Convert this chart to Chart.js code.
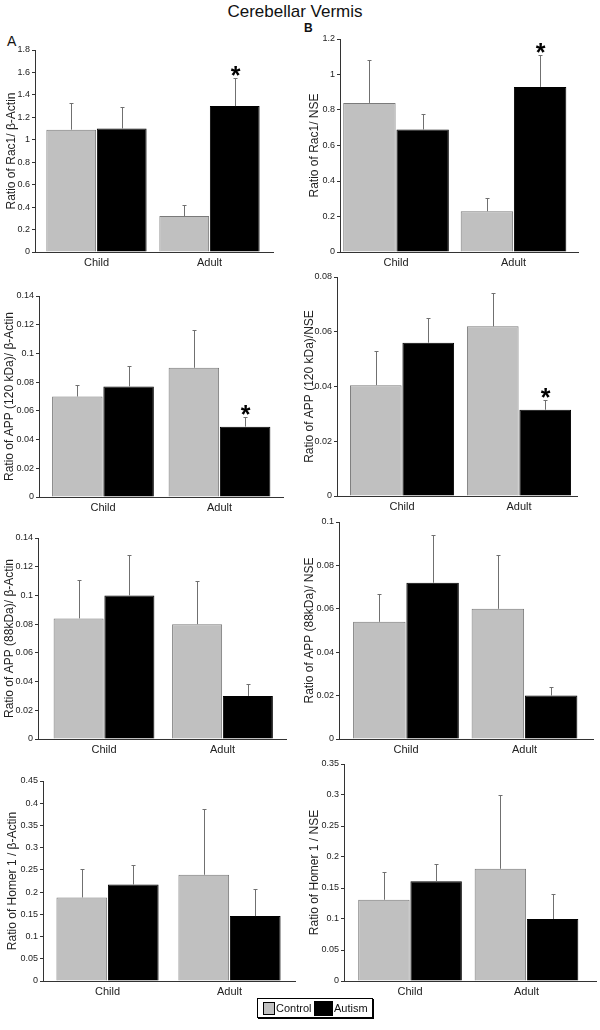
<!DOCTYPE html>
<html>
<head>
<meta charset="utf-8">
<script src="https://cdn.jsdelivr.net/npm/chart.js@4.4.1/dist/chart.umd.min.js"></script>
<style>
html,body{margin:0;padding:0;background:#fff;}
body{width:600px;height:1030px;position:relative;overflow:hidden;font-family:"Liberation Sans",Arial,sans-serif;color:#111;}
canvas{position:absolute;}
#title{position:absolute;left:0;width:590px;top:3px;text-align:center;font-size:17px;line-height:17px;}
#labA{position:absolute;left:7px;top:34px;font-size:14px;line-height:14px;}
#labB{position:absolute;left:304px;top:22px;font-size:12px;line-height:12px;font-weight:bold;}
#legend{position:absolute;left:257px;top:998px;width:114px;height:18px;border:1px solid #000;box-shadow:1px 1px 0 #000;font-size:11px;line-height:18px;white-space:nowrap;}
#legend .sw{position:absolute;border:1px solid #000;box-sizing:border-box;}
#legend .tx{position:absolute;top:0;}
</style>
</head>
<body>
<div id="title">Cerebellar Vermis</div>
<div id="labA">A</div>
<div id="labB">B</div>
<canvas id="a1"></canvas><canvas id="b1"></canvas>
<canvas id="a2"></canvas><canvas id="b2"></canvas>
<canvas id="a3"></canvas><canvas id="b3"></canvas>
<canvas id="a4"></canvas><canvas id="b4"></canvas>
<div id="legend"></div>
<script>
// ---------------- DATA ----------------
const groups = ['Child', 'Adult'];
const seriesNames = ['Control', 'Autism'];

// A1: Rac1 / beta-Actin
const rac1ActinControl = [1.09, 0.32];
const rac1ActinControlSE = [0.24, 0.10];
const rac1ActinAutism = [1.10, 1.30];
const rac1ActinAutismSE = [0.19, 0.25];
const rac1ActinStars = ['', '*'];
const rac1ActinTicks = ['0', '0.2', '0.4', '0.6', '0.8', '1', '1.2', '1.4', '1.6', '1.8'];

// B1: Rac1 / NSE
const rac1NseControl = [0.84, 0.23];
const rac1NseControlSE = [0.24, 0.075];
const rac1NseAutism = [0.69, 0.93];
const rac1NseAutismSE = [0.09, 0.18];
const rac1NseStars = ['', '*'];
const rac1NseTicks = ['0', '0.2', '0.4', '0.6', '0.8', '1', '1.2'];

// A2: APP (120 kDa) / beta-Actin
const app120ActinControl = [0.070, 0.090];
const app120ActinControlSE = [0.008, 0.026];
const app120ActinAutism = [0.077, 0.049];
const app120ActinAutismSE = [0.014, 0.007];
const app120ActinStars = ['', '*'];
const app120ActinTicks = ['0', '0.02', '0.04', '0.06', '0.08', '0.1', '0.12', '0.14'];

// B2: APP (120 kDa) / NSE
const app120NseControl = [0.0405, 0.062];
const app120NseControlSE = [0.0125, 0.012];
const app120NseAutism = [0.056, 0.0315];
const app120NseAutismSE = [0.009, 0.0035];
const app120NseStars = ['', '*'];
const app120NseTicks = ['0', '0.02', '0.04', '0.06', '0.08'];

// A3: APP (88 kDa) / beta-Actin
const app88ActinControl = [0.084, 0.080];
const app88ActinControlSE = [0.027, 0.030];
const app88ActinAutism = [0.100, 0.030];
const app88ActinAutismSE = [0.028, 0.008];
const app88ActinStars = ['', ''];
const app88ActinTicks = ['0', '0.02', '0.04', '0.06', '0.08', '0.1', '0.12', '0.14'];

// B3: APP (88 kDa) / NSE
const app88NseControl = [0.054, 0.060];
const app88NseControlSE = [0.013, 0.025];
const app88NseAutism = [0.072, 0.020];
const app88NseAutismSE = [0.022, 0.004];
const app88NseStars = ['', ''];
const app88NseTicks = ['0', '0.02', '0.04', '0.06', '0.08', '0.1'];

// A4: Homer 1 / beta-Actin
const homerActinControl = [0.188, 0.239];
const homerActinControlSE = [0.063, 0.148];
const homerActinAutism = [0.217, 0.146];
const homerActinAutismSE = [0.044, 0.060];
const homerActinStars = ['', ''];
const homerActinTicks = ['0', '0.05', '0.1', '0.15', '0.2', '0.25', '0.3', '0.35', '0.4', '0.45'];

// B4: Homer 1 / NSE
const homerNseControl = [0.131, 0.181];
const homerNseControlSE = [0.045, 0.119];
const homerNseAutism = [0.161, 0.100];
const homerNseAutismSE = [0.027, 0.040];
const homerNseStars = ['', ''];
const homerNseTicks = ['0', '0.05', '0.1', '0.15', '0.2', '0.25', '0.3', '0.35'];

// ---------------- STYLE / LAYOUT ----------------
const CONTROL_FILL = '#c0c0c0', CONTROL_EDGE = '#7a7a7a';
const AUTISM_FILL = '#000000', AUTISM_EDGE = '#000000';
const AXIS_COLOR = '#333333';
const FONT = '"Liberation Sans", Arial, sans-serif';

Chart.defaults.font.family = FONT;
Chart.defaults.color = '#222';
Chart.defaults.animation = false;

const errorBarPlugin = {
  id: 'errorBars',
  afterDatasetsDraw(chart) {
    const ctx = chart.ctx;
    const ys = chart.scales.y;
    chart.data.datasets.forEach((ds, di) => {
      const meta = chart.getDatasetMeta(di);
      meta.data.forEach((bar, i) => {
        const v = ds.data[i].y;
        const top = v + ds.err[i];
        const yTop = Math.round(ys.getPixelForValue(top)) + 0.5;
        const yBar = ys.getPixelForValue(v);
        const x = Math.round(bar.x) + 0.5;
        ctx.save();
        ctx.strokeStyle = '#707070';
        ctx.lineWidth = 1;
        ctx.beginPath();
        ctx.moveTo(x, yBar);
        ctx.lineTo(x, yTop);
        ctx.moveTo(x - 2, yTop);
        ctx.lineTo(x + 2, yTop);
        ctx.stroke();
        if (ds.stars && ds.stars[i]) {
          ctx.fillStyle = '#000';
          ctx.font = 'bold 25px ' + FONT;
          ctx.textAlign = 'center';
          ctx.textBaseline = 'alphabetic';
          const m = ctx.measureText(ds.stars[i]);
          const center = yTop - 8;
          const base = center - (m.actualBoundingBoxDescent - m.actualBoundingBoxAscent) / 2;
          ctx.fillText(ds.stars[i], x, base);
        }
        ctx.restore();
      });
    });
  }
};

function makePanel(id, lay, yTitle, control, controlSE, autism, autismSE, stars, tickLabels) {
  const W = 300, X_H = 22, PAD_T = 8;
  const cv = document.getElementById(id);
  const top = lay.ty - PAD_T;
  const H = lay.by - top + X_H;
  cv.width = W; cv.height = H;
  cv.style.left = lay.cx + 'px';
  cv.style.top = top + 'px';
  cv.style.width = W + 'px';
  cv.style.height = H + 'px';
  const tickVals = tickLabels.map(parseFloat);
  new Chart(cv, {
    type: 'bar',
    data: {
      datasets: [
        {
          label: seriesNames[0],
          data: control.map((v, i) => ({x: i + 1, y: v})),
          err: controlSE,
          stars: ['', ''],
          backgroundColor: CONTROL_FILL,
          borderColor: CONTROL_EDGE,
          borderWidth: 1,
          borderSkipped: 'bottom'
        },
        {
          label: seriesNames[1],
          data: autism.map((v, i) => ({x: i + 1, y: v})),
          err: autismSE,
          stars: stars,
          backgroundColor: AUTISM_FILL,
          borderColor: AUTISM_EDGE,
          borderWidth: 1,
          borderSkipped: 'bottom'
        }
      ]
    },
    options: {
      responsive: false,
      devicePixelRatio: 1,
      animation: false,
      categoryPercentage: lay.cat,
      barPercentage: 0.985,
      layout: {padding: {top: PAD_T, right: lay.cx + W - lay.R, left: 0, bottom: 0}},
      plugins: {legend: {display: false}, tooltip: {enabled: false}},
      scales: {
        x: {
          type: 'linear',
          offset: false,
          min: lay.xmin,
          max: lay.xmax,
          afterBuildTicks: (s) => { s.ticks = groups.map((g, i) => ({value: i + 1})); },
          afterFit: (s) => { s.height = X_H; },
          ticks: {
            callback: (v) => groups[Math.round(v) - 1] || '',
            font: {size: 11},
            color: '#222',
            padding: 4,
            maxRotation: 0,
            autoSkip: false
          },
          grid: {display: false, offset: false, drawTicks: false, tickLength: 0},
          border: {display: true, color: AXIS_COLOR, width: 1}
        },
        y: {
          type: 'linear',
          min: 0,
          max: tickVals[tickVals.length - 1],
          afterBuildTicks: (s) => { s.ticks = tickVals.map(v => ({value: v})); },
          afterFit: (s) => { s.width = lay.L - lay.cx; },
          ticks: {
            callback: (v, i) => tickLabels[i],
            font: {size: 9},
            color: '#222',
            padding: 2,
            autoSkip: false
          },
          grid: {display: true, drawOnChartArea: false, drawTicks: true, tickLength: 3, color: AXIS_COLOR},
          border: {display: true, color: AXIS_COLOR, width: 1},
          title: {
            display: true,
            text: yTitle,
            color: '#222',
            font: {size: 12, lineHeight: 1.2},
            padding: {top: lay.titlePad, bottom: 0}
          }
        }
      }
    },
    plugins: [errorBarPlugin]
  });
}

const layouts = {
  a1: {cx: 0,   ty: 50,  by: 252, L: 35,  R: 273, xmin: 0.456, xmax: 2.562, cat: 0.894, titlePad: 4},
  b1: {cx: 300, ty: 39,  by: 252, L: 340, R: 578, xmin: 0.523, xmax: 2.549, cat: 0.906, titlePad: 7},
  a2: {cx: 0,   ty: 296, by: 497, L: 39,  R: 283, xmin: 0.451, xmax: 2.545, cat: 0.880, titlePad: 2},
  b2: {cx: 300, ty: 277, by: 496, L: 337, R: 577, xmin: 0.444, xmax: 2.496, cat: 0.897, titlePad: 2},
  a3: {cx: 0,   ty: 538, by: 739, L: 38,  R: 286, xmin: 0.443, xmax: 2.536, cat: 0.857, titlePad: 2},
  b3: {cx: 300, ty: 522, by: 739, L: 339, R: 593, xmin: 0.435, xmax: 2.578, cat: 0.899, titlePad: 2},
  a4: {cx: 0,   ty: 781, by: 981, L: 43,  R: 295, xmin: 0.471, xmax: 2.537, cat: 0.844, titlePad: 5},
  b4: {cx: 300, ty: 764, by: 981, L: 344, R: 596, xmin: 0.433, xmax: 2.597, cat: 0.897, titlePad: 7}
};

makePanel('a1', layouts.a1, 'Ratio of Rac1/ \u03B2-Actin', rac1ActinControl, rac1ActinControlSE, rac1ActinAutism, rac1ActinAutismSE, rac1ActinStars, rac1ActinTicks);
makePanel('b1', layouts.b1, 'Ratio of Rac1/ NSE', rac1NseControl, rac1NseControlSE, rac1NseAutism, rac1NseAutismSE, rac1NseStars, rac1NseTicks);
makePanel('a2', layouts.a2, 'Ratio of APP (120 kDa)/ \u03B2-Actin', app120ActinControl, app120ActinControlSE, app120ActinAutism, app120ActinAutismSE, app120ActinStars, app120ActinTicks);
makePanel('b2', layouts.b2, 'Ratio of APP (120 kDa)/NSE', app120NseControl, app120NseControlSE, app120NseAutism, app120NseAutismSE, app120NseStars, app120NseTicks);
makePanel('a3', layouts.a3, 'Ratio of APP (88kDa)/ \u03B2-Actin', app88ActinControl, app88ActinControlSE, app88ActinAutism, app88ActinAutismSE, app88ActinStars, app88ActinTicks);
makePanel('b3', layouts.b3, 'Ratio of APP (88kDa)/ NSE', app88NseControl, app88NseControlSE, app88NseAutism, app88NseAutismSE, app88NseStars, app88NseTicks);
makePanel('a4', layouts.a4, 'Ratio of Homer 1 / \u03B2-Actin', homerActinControl, homerActinControlSE, homerActinAutism, homerActinAutismSE, homerActinStars, homerActinTicks);
makePanel('b4', layouts.b4, 'Ratio of Homer 1 / NSE', homerNseControl, homerNseControlSE, homerNseAutism, homerNseAutismSE, homerNseStars, homerNseTicks);

// Legend (HTML, real text)
const legend = document.getElementById('legend');
const legendItems = [
  {name: seriesNames[0], fill: CONTROL_FILL, sw: {left: 5, top: 3, w: 12, h: 13}, tx: 18},
  {name: seriesNames[1], fill: AUTISM_FILL, sw: {left: 56, top: 2, w: 19, h: 15}, tx: 76}
];
legendItems.forEach(it => {
  const s = document.createElement('span');
  s.className = 'sw';
  s.style.left = it.sw.left + 'px'; s.style.top = it.sw.top + 'px';
  s.style.width = it.sw.w + 'px'; s.style.height = it.sw.h + 'px';
  s.style.background = it.fill;
  legend.appendChild(s);
  const t = document.createElement('span');
  t.className = 'tx';
  t.style.left = it.tx + 'px';
  t.textContent = it.name;
  legend.appendChild(t);
});
</script>
</body>
</html>
